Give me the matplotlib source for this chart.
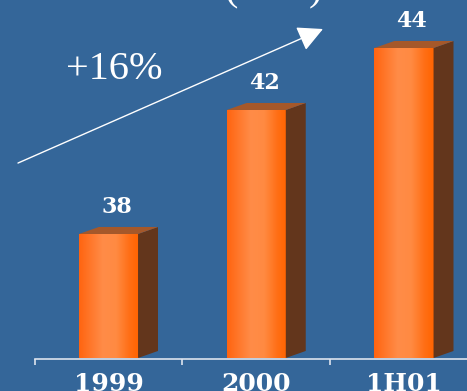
import numpy as np
import matplotlib
matplotlib.use("Agg")
import matplotlib.pyplot as plt
from matplotlib.patches import Polygon
from matplotlib.colors import LinearSegmentedColormap

categories = ["1999", "2000", "1H01"]
values = [38, 42, 44]
growth_label = "+16%"
title_text = "(€ bn)"

BG = "#346699"
base = 34.0
bar_w = 0.40
dx = 0.135
dy = 0.226

fig = plt.figure(figsize=(4.67, 3.91), dpi=100, facecolor=BG)
ax = fig.add_axes([0, 0, 1, 1])
ax.set_facecolor(BG)
ax.set_xlim(-0.7343, 2.4264)
ax.set_ylim(32.935, 45.548)

x = np.arange(len(categories))
heights = [v - base for v in values]
bars = ax.bar(x, heights, width=bar_w, bottom=base, color="#ff7a2a", zorder=3)

front_cmap = LinearSegmentedColormap.from_list(
    "front", [(0.0, "#ff6410"), (0.4, "#ff8c48"), (0.62, "#ff8a42"),
              (0.85, "#ff6e14"), (1.0, "#ff6400")])
grad = np.linspace(0, 1, 256).reshape(1, -1)
for xi, v, b in zip(x, values, bars):
    im = ax.imshow(grad, cmap=front_cmap, aspect="auto",
                   extent=(xi - bar_w / 2, xi + bar_w / 2, base, v),
                   zorder=4, interpolation="bilinear")
    im.set_clip_path(b)
    # side face
    side = Polygon([(xi + bar_w / 2, base), (xi + bar_w / 2 + dx, base + dy),
                    (xi + bar_w / 2 + dx, v + dy), (xi + bar_w / 2, v)],
                   closed=True, facecolor="#63361c", edgecolor="none", zorder=4)
    ax.add_patch(side)
    # top face
    top = Polygon([(xi - bar_w / 2, v), (xi + bar_w / 2, v),
                   (xi + bar_w / 2 + dx, v + dy), (xi - bar_w / 2 + dx, v + dy)],
                  closed=True, facecolor="#a5582a", edgecolor="none", zorder=4)
    ax.add_patch(top)
    ax.text(xi + dx * 0.4, v + 0.69, f"{v}", ha="center", va="baseline",
            color="white", fontsize=16, fontweight="bold",
            family="DejaVu Serif", zorder=5)

ax.set_ylim(32.935, 45.548)
ax.set_xlim(-0.7343, 2.4264)

for s in ["top", "left", "right"]:
    ax.spines[s].set_visible(False)
ax.spines["bottom"].set_position(("data", base - 0.03))
ax.spines["bottom"].set_bounds(-0.5, 2.4264)
ax.spines["bottom"].set_color("#dde3ee")
ax.spines["bottom"].set_linewidth(1.2)
ax.spines["bottom"].set_zorder(6)

ax.set_yticks([])
ax.set_xticks([-0.5, 0.5, 1.5])
ax.set_xticklabels([])
ax.tick_params(axis="x", which="major", direction="out", length=4,
               width=1.2, color="#dde3ee")
ax.set_xticks(x, minor=True)
ax.set_xticklabels(categories, minor=True)
ax.tick_params(axis="x", which="minor", length=0, pad=9.5,
               labelsize=18, labelcolor="white")
for lab in ax.get_xticklabels(minor=True):
    lab.set_fontweight("bold")
    lab.set_family("DejaVu Serif")

ax.annotate("", xy=(0.6916, 0.9258), xytext=(0.0385, 0.583),
            xycoords="axes fraction", textcoords="axes fraction",
            arrowprops=dict(arrowstyle="-|>,head_length=0.65,head_width=0.33",
                            mutation_scale=24, lw=1.0, color="white",
                            shrinkA=0, shrinkB=0), zorder=6)

ax.text(0.244, 0.8235, growth_label, transform=ax.transAxes, ha="center",
        va="center", color="white", fontsize=29, family="Liberation Serif")
ax.text(0.5857, 1.0, title_text, transform=ax.transAxes, ha="center",
        va="baseline", color="white", fontsize=29, family="Liberation Serif")

fig.savefig("out.png", dpi=100, facecolor=BG)
